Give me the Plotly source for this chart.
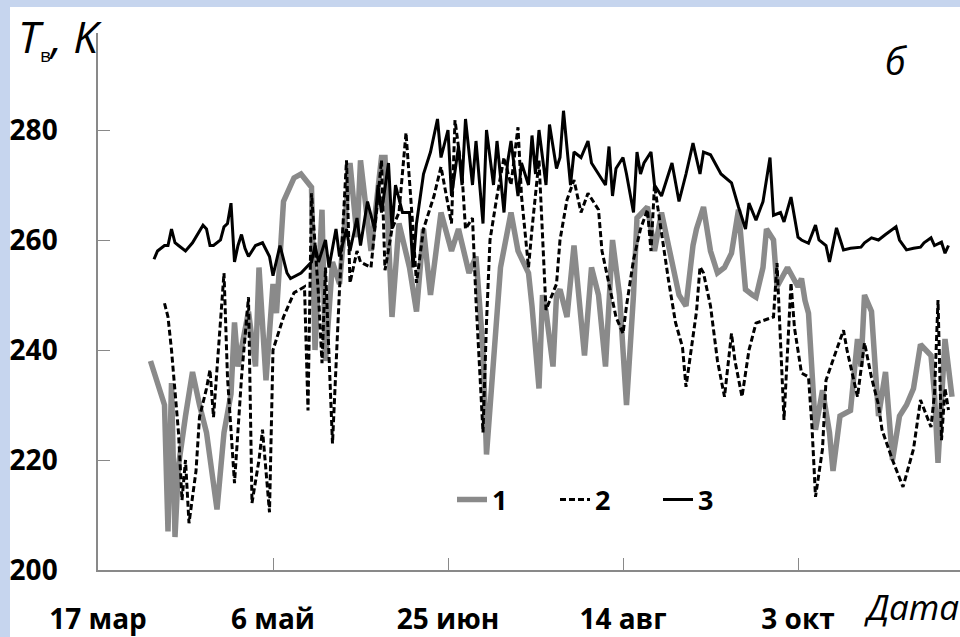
import pandas as pd
import plotly.graph_objects as go

# ---------------- data (day offsets from 17 March, brightness temperature, K) ----------------
base_date = "2011-03-17"

s1_day = [15, 17, 19, 20, 21, 22, 23, 25, 27, 29, 31, 34, 36, 38, 39, 40, 43, 45, 46, 48,
          50, 51, 53, 56, 58, 61, 62, 64, 65, 67, 69, 72, 74, 75, 78, 81, 82, 84, 86, 89,
          91, 93, 95, 98, 101, 103, 106, 108, 110, 111, 113, 115, 118, 120, 123, 124, 126, 127, 128, 130,
          131, 132, 134, 136, 139, 141, 143, 145, 147, 149, 151, 153, 154, 157, 159, 161, 163, 166, 168, 170,
          171, 173, 175, 177, 179, 181, 183, 185, 187, 188, 190, 191, 193, 194, 197, 200, 201, 202, 203, 204,
          205, 207, 209, 210, 212, 215, 217, 218, 219, 221, 223, 225, 227, 229, 231, 233, 235, 238, 239, 240,
          242, 244]
s1_val = [238, 234, 230, 207, 234, 206, 219, 228, 236, 230, 225, 211, 225, 232, 245, 237, 247, 237, 255, 234.5,
          252, 246.7, 267, 271.3, 272, 269.6, 240, 265.5, 238, 256, 252, 274, 260.5, 274.5, 258, 275, 275, 246, 263, 255,
          247, 262, 250, 265, 258, 262, 254, 257, 240, 221, 239, 255, 265, 258, 254, 248, 233, 250, 247, 237,
          250, 251, 246, 259, 239, 255, 250, 237, 260, 250, 230, 250, 264, 266, 258, 265, 259, 250, 248, 259,
          262, 266, 258, 254, 255, 257.6, 265.5, 251, 250, 249.6, 255, 262, 260, 251.5, 255, 251.5, 253, 249, 246.7, 235,
          225.5, 232.7, 225, 218, 228, 229, 242, 237, 250, 247, 228, 236, 220, 228, 230, 233, 241, 239, 232, 219.5,
          242, 231.5]

s2_day = [19, 20, 21, 23, 24, 25, 26, 28, 29, 31, 32, 33, 36, 37, 39, 41, 43, 44, 46, 47,
          49, 50, 53, 56, 59, 60, 61, 63, 64, 65, 67, 69, 71, 72, 74, 75, 78, 79, 81, 82,
          84, 86, 88, 90, 91, 93, 96, 98, 101, 102, 104, 105, 107, 108, 110, 111, 112, 114, 116, 118,
          120, 121, 123, 124, 126, 128, 131, 132, 134, 136, 138, 140, 143, 144, 146, 148, 150, 151, 153, 155,
          157, 158, 159, 161, 162, 163, 165, 167, 168, 171, 172, 173, 175, 177, 179, 181, 182, 184, 186, 188,
          191, 193, 194, 196, 198, 199, 201, 203, 204, 205, 207, 208, 211, 213, 214, 217, 219, 221, 223, 224,
          227, 230, 233, 235, 238, 239, 240, 241, 242, 243]
s2_val = [248.5, 246, 240, 225, 212.7, 220, 208.5, 218, 227.8, 233, 236.4, 227.8, 254, 235, 215.8, 235, 249.6, 212.2, 220, 225.5,
          210.5, 240, 246, 250.4, 251.5, 229, 268.5, 250, 237.6, 255, 223, 251, 274.5, 252.2, 258, 256, 255, 262, 274.5, 254.5,
          262, 265, 279.5, 262, 252.2, 262, 268, 273.3, 263, 281.8, 272, 262, 264, 249, 225, 245, 260, 268, 275, 270,
          280.5, 268, 255, 262, 274.5, 247.3, 252, 260, 267.3, 270.9, 265, 268.5, 265.5, 258, 252.2, 246, 243, 248, 256.4, 262,
          265.5, 258, 270, 261.8, 257, 252.7, 245, 240.5, 233.3, 247, 255.1, 254, 248, 238, 231.5, 243, 238, 231.5, 240, 244.9,
          245.5, 246, 255.8, 227.3, 252.2, 244, 235.8, 235.1, 226, 213.3, 222, 234.5, 240, 243.6, 240, 231.5, 241.3, 235, 230, 225.5,
          220, 215.1, 222, 230.9, 226, 232, 249.1, 223.6, 233, 229.1]

s3_day = [16, 17, 19, 20, 21, 22, 23, 25, 27, 28, 30, 31, 32, 33, 35, 36, 37, 38, 39, 40,
          41, 42, 43, 45, 47, 49, 50, 52, 54, 55, 58, 61, 62, 63, 65, 66, 68, 69, 71, 72,
          74, 75, 77, 79, 80, 81, 83, 84, 85, 87, 89, 90, 91, 93, 95, 97, 98, 100, 101, 103,
          104, 105, 107, 108, 110, 111, 113, 114, 116, 117, 118, 120, 121, 123, 124, 125, 126, 128, 129, 131,
          132, 133, 135, 136, 138, 140, 141, 143, 145, 146, 147, 148, 150, 151, 153, 154, 155, 156, 158, 159,
          161, 162, 164, 166, 168, 170, 172, 173, 175, 178, 181, 183, 185, 186, 188, 190, 191, 192, 193, 195,
          196, 198, 200, 201, 203, 204, 205, 206, 208, 209, 210, 211, 213, 215, 218, 219, 221, 223, 225, 228,
          229, 231, 233, 235, 236, 238, 239, 241, 242, 243]
s3_val = [256.5, 258, 259, 259, 262, 259.5, 259, 258, 259.5, 260.5, 262.7, 262, 259, 259, 260, 262.4, 263, 266.7, 256, 259,
          261, 258.5, 257, 259, 259.5, 257, 253.5, 259, 254, 253, 254, 256, 259, 256, 260, 255, 262, 257, 262, 258,
          264, 259, 267, 262, 270, 265, 274, 262, 270, 265, 265, 255, 263, 272, 276, 282, 275, 280, 268, 277,
          270, 282, 270, 278, 263, 280, 270, 278, 265, 274, 278, 268, 274, 270, 279, 272, 280, 270, 281, 273,
          275, 283.5, 270, 276, 275, 278, 274, 272, 270, 277, 268, 273, 275, 272, 265, 276, 272, 274, 276, 270,
          268, 270, 274, 267, 272, 277.6, 272, 276, 275.5, 272, 270.4, 266, 262, 266.7, 263.6, 267, 271, 275, 264.5, 265,
          263.3, 267.8, 260.5, 260, 259.4, 261, 262.7, 260, 259, 256, 259, 262.2, 258.2, 258.5, 258.7, 259.5, 260.4, 260, 261, 262.4,
          260, 258.2, 258.5, 258.7, 259.5, 260.4, 259, 259.6, 257.6, 259]

series_names = ["1", "2", "3"]

tick_days = [0, 50, 100, 150, 200]
tick_text = ["17 мар", "6 май", "25 июн", "14 авг", "3 окт"]
y_ticks = [200, 220, 240, 260, 280]

# ---------------- build ----------------
b = pd.Timestamp(base_date)
to_dates = lambda days: [b + pd.Timedelta(days=d) for d in days]

fig = go.Figure()
fig.add_trace(go.Scatter(x=to_dates(s1_day), y=s1_val, mode="lines", name=series_names[0],
                         line=dict(color="#8a8a8a", width=5.5)))
fig.add_trace(go.Scatter(x=to_dates(s2_day), y=s2_val, mode="lines", name=series_names[1],
                         line=dict(color="#000000", width=3, dash="6px,3px")))
fig.add_trace(go.Scatter(x=to_dates(s3_day), y=s3_val, mode="lines", name=series_names[2],
                         line=dict(color="#000000", width=3)))

W, H = 960, 637
L, R, T, B = 98, 0, 33, 67
pw, ph = W - L - R, H - T - B
px = lambda x: (x - L) / pw
py = lambda y: (H - B - y) / ph

BLUE = "#c6d5ee"
TICKFONT = dict(family="Open Sans", size=28, color="#000000", weight="bold")

fig.update_layout(
    width=W, height=H,
    margin=dict(l=L, r=R, t=T, b=B, pad=0),
    paper_bgcolor="white", plot_bgcolor="white",
    showlegend=True,
    legend=dict(orientation="h", x=px(452), y=py(500), xanchor="left", yanchor="middle",
                bgcolor="rgba(0,0,0,0)", font=dict(family="Open Sans", size=27, color="#000000", weight="bold"),
                itemwidth=30, entrywidth=58, tracegroupgap=0),
    xaxis=dict(type="date", range=[b, b + pd.Timedelta(days=pw / 3.5)],
               tickvals=to_dates(tick_days), ticktext=tick_text,
               ticks="inside", ticklen=12, tickwidth=1, tickcolor="#898989",
               showline=True, linecolor="#898989", linewidth=1.5, showgrid=False, zeroline=False,
               tickfont=TICKFONT, ticklabelstandoff=24),
    yaxis=dict(range=[200, 200 + ph / 5.5], tickvals=y_ticks,
               ticks="inside", ticklen=12, tickwidth=1, tickcolor="#898989",
               showline=True, linecolor="#898989", linewidth=1.5, showgrid=False, zeroline=False,
               tickfont=TICKFONT, ticklabelstandoff=33),
    shapes=[
        dict(type="rect", xref="paper", yref="paper", x0=px(-20), x1=px(10), y0=py(700), y1=py(-20),
             fillcolor=BLUE, line_width=0, layer="below"),
        dict(type="rect", xref="paper", yref="paper", x0=px(-20), x1=px(990), y0=py(7), y1=py(-20),
             fillcolor=BLUE, line_width=0, layer="below"),
    ],
    annotations=[
        dict(xref="paper", yref="paper", x=px(16), y=py(4), xanchor="left", yanchor="top",
             text="<i>T</i><sub><span style='font-size:19px'>в</span></sub><i>, K</i>", showarrow=False,
             font=dict(family="Open Sans", size=44, color="#000000")),
        dict(xref="paper", yref="paper", x=px(896), y=py(60), xanchor="center", yanchor="middle",
             text="<i>б</i>", showarrow=False,
             font=dict(family="Open Sans", size=38, color="#000000")),
        dict(xref="paper", yref="paper", x=px(862), y=py(606), xanchor="left", yanchor="middle",
             text="<i>Дата</i>", showarrow=False,
             font=dict(family="Open Sans", size=35, color="#000000")),
    ],
)

fig.write_html("out.html")
